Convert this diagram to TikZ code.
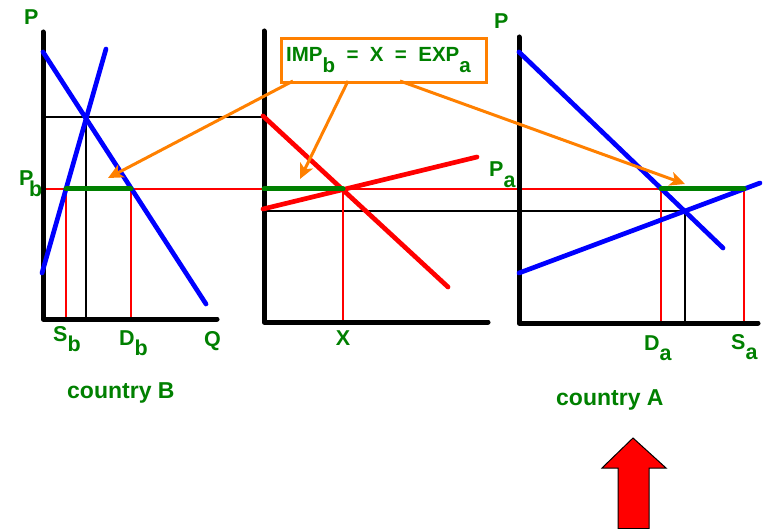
\documentclass[tikz,border=0pt]{standalone}
\usepackage{fontspec}
\setmainfont{Liberation Sans}
\usetikzlibrary{arrows.meta}
\definecolor{dgreen}{RGB}{0,128,0}
\definecolor{orng}{RGB}{255,128,0}
\newcommand{\mysub}[1]{\raisebox{-0.5em}{#1}}
\begin{document}
\begin{tikzpicture}[x=1pt,y=-1pt,
  axis/.style={line width=5pt,line cap=round,line join=round},
  bluecurve/.style={blue,line width=4.7pt,line cap=round},
  redcurve/.style={red,line width=4.7pt,line cap=round},
  greenseg/.style={dgreen,line width=5pt,line cap=round},
  thinred/.style={red,line width=1.3pt},
  thinblack/.style={black,line width=1.1pt},
  orangearrow/.style={orng,line width=3pt,-{Stealth[length=15pt,width=14pt,inset=4pt]}},
  lab/.style={text=dgreen,font=\fontsize{21.5}{22}\selectfont\bfseries,inner sep=0pt,anchor=base west},
  biglab/.style={text=dgreen,font=\fontsize{23}{24}\selectfont\bfseries,inner sep=0pt,anchor=base west}]
\useasboundingbox (0,0) rectangle (765,529);

% ---------- coordinates ----------
% left panel
\coordinate (LTop) at (43,32);
\coordinate (LCorner) at (43,319);
\coordinate (LRight) at (217,319);
\coordinate (LDs) at (43,52);
\coordinate (LDe) at (206,304);
\coordinate (LSs) at (42,273);
\coordinate (LSe) at (106,49);
\coordinate (LEq) at (86,117);
\coordinate (LEqAx) at (86,319);
\coordinate (LEqP) at (46,117);
\coordinate (LPb) at (44,189);
\coordinate (LSb) at (66,189);
\coordinate (LSbAx) at (66,319);
\coordinate (LDb) at (131,189);
\coordinate (LDbAx) at (131,319);
% middle panel
\coordinate (MTop) at (264,31);
\coordinate (MCorner) at (264,322);
\coordinate (MRight) at (488,322);
\coordinate (MDs) at (263,116);
\coordinate (MDe) at (448,287);
\coordinate (MSs) at (263,209);
\coordinate (MSe) at (477,157);
\coordinate (MAxP) at (264,189);
\coordinate (MAxL) at (264,117);
\coordinate (MAxR) at (264,211);
\coordinate (MEq) at (343,189);
\coordinate (MEqAx) at (343,322);
% right panel
\coordinate (RTop) at (519,37);
\coordinate (RCorner) at (519,323);
\coordinate (RRight) at (758,323);
\coordinate (RDs) at (519,52);
\coordinate (RDe) at (723,248);
\coordinate (RSs) at (519,273);
\coordinate (RSe) at (760,183);
\coordinate (REq) at (685,211);
\coordinate (REqAx) at (685,323);
\coordinate (RDa) at (661,189);
\coordinate (RDaAx) at (661,323);
\coordinate (RSa) at (744,189);
\coordinate (RSaAx) at (744,323);
% arrow tips
\coordinate (TipL) at (108,178);
\coordinate (TipM) at (300,179);
\coordinate (TipR) at (685,184);

% ---------- thin guide lines ----------
\draw[thinblack] (LEqP) -- (MAxL);
\draw[thinblack] (LEq) -- (LEqAx);
\draw[thinblack] (MAxR) -- (REq);
\draw[thinblack] (REq) -- (REqAx);
\draw[thinred] (LPb) -- (RDa);
\draw[thinred] (LSb) -- (LSbAx);
\draw[thinred] (LDb) -- (LDbAx);
\draw[thinred] (MEq) -- (MEqAx);
\draw[thinred] (RDa) -- (RDaAx);
\draw[thinred] (RSa) -- (RSaAx);

% ---------- axes ----------
\draw[axis] (LTop) -- (LCorner) -- (LRight);
\draw[axis] (MTop) -- (MCorner) -- (MRight);
\draw[axis] (RTop) -- (RCorner) -- (RRight);

% ---------- curves ----------
\draw[bluecurve] (LDs) -- (LDe);
\draw[bluecurve] (LSs) -- (LSe);
\draw[redcurve] (MDs) -- (MDe);
\draw[redcurve] (MSs) -- (MSe);
\draw[bluecurve] (RDs) -- (RDe);
\draw[bluecurve] (RSs) -- (RSe);

% ---------- green segments ----------
\draw[greenseg] (LSb) -- (LDb);
\draw[greenseg] (MAxP) -- (MEq);
\draw[greenseg] (RDa) -- (RSa);

% ---------- box and arrows ----------
\node[draw=orng,line width=3pt,fill=white,minimum width=205pt,minimum height=44pt,inner sep=0pt,anchor=north west] (box) at (280,37) {};
\node[text=dgreen,font=\fontsize{20.5}{21}\selectfont\bfseries,inner sep=0pt,anchor=base west] (boxtext) at (286,62) {IMP\mysub{b}\ \ =\ \ X\ \ =\ \ EXP\mysub{a}};
\coordinate (BL) at (293,81);
\coordinate (BM) at (348,81);
\coordinate (BR) at (400,81);
\draw[orangearrow] (BL) -- (TipL);
\draw[orangearrow] (BM) -- (TipM);
\draw[orangearrow] (BR) -- (TipR);

% ---------- labels ----------
\node[lab] (PL) at (24,25) {P};
\node[lab] (PR) at (494,29) {P};
\node[lab] (Pb) at (19,186) {P\kern-0.2em\mysub{b}};
\node[lab] (Pa) at (489,177) {P\mysub{a}};
\node[lab] (Sb) at (53,341) {S\mysub{b}};
\node[lab] (Db) at (119,345) {D\mysub{b}};
\node[lab] (Q) at (204,346) {Q};
\node[lab,anchor=base] (X) at (343,345) {X};
\node[lab] (Da) at (644,350) {D\mysub{a}};
\node[lab] (Sa) at (731,349) {S\mysub{a}};
\node[biglab] (cB) at (67,398) {country B};
\node[biglab] (cA) at (556,405) {country A};

% ---------- red block arrow ----------
\draw[fill=red,draw=black,line width=1pt,line join=miter]
  (633,438) -- (666,468) -- (649,468) -- (649,528.5) -- (618,528.5) -- (618,468) -- (602,468) -- cycle;
\end{tikzpicture}
\end{document}
